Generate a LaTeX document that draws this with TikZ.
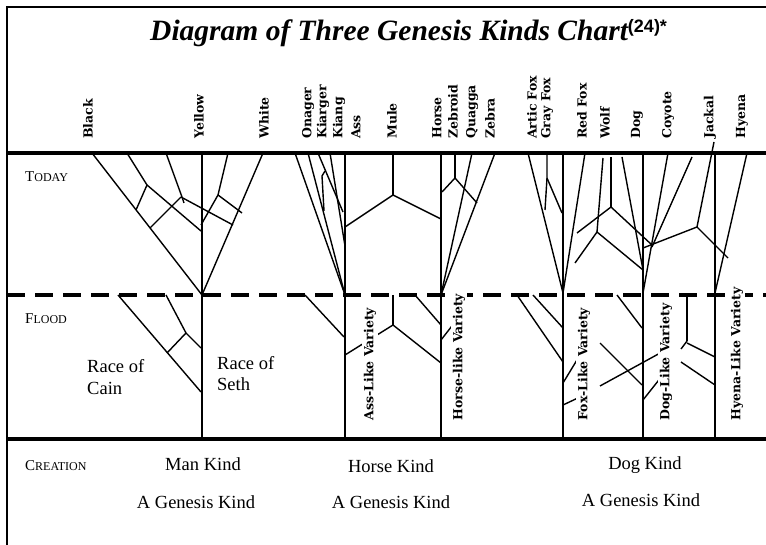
\documentclass[tikz,border=0pt]{standalone}
\usepackage{fontspec}
\setmainfont{Liberation Serif}
\newfontfamily\labfont{DejaVu Serif}
\newfontfamily\supfont{Liberation Sans}
\begin{document}
\begin{tikzpicture}[x=1pt,y=-1pt,
  br/.style={line width=1.4pt},
  band/.style={line width=4pt},
  lab/.style={rotate=90, anchor=west, inner sep=0pt, font=\labfont\bfseries\fontsize{12.5}{12.5}\selectfont},
  var/.style={rotate=90, anchor=west, fill=white, inner sep=1.5pt, font=\labfont\bfseries\fontsize{12.5}{12.5}\selectfont},
  txt/.style={anchor=base west, inner sep=0pt, font=\fontsize{18.5}{18.5}\selectfont},
  kind/.style={anchor=base, inner sep=0pt, font=\fontsize{18.5}{18.5}\selectfont}]
\useasboundingbox (0,0) rectangle (766,545);
\fill[white] (0,0) rectangle (766,545);
% frame and bands
\draw[line width=2pt] (7,545) -- (7,7) -- (766,7);
\draw[band] (7,153) -- (766,153);
\draw[band, dash pattern=on 18pt off 10pt] (7,295) -- (766,295);
\draw[band] (7,439) -- (766,439);
% apex coordinates
\coordinate (manA) at (202,295);
\coordinate (assA) at (345,295);
\coordinate (horA) at (441,295);
\coordinate (foxA) at (563,293);
\coordinate (dogA) at (643,293);
\coordinate (hyeA) at (715,293);
% ---- Man kind, today
\draw[br] (92,153) -- (manA);
\draw[br] (263,153) -- (manA);
\draw[br] (202,153) -- (202,439);
\draw[br] (127,153) -- (147,185) -- (201,231);
\draw[br] (147,185) -- (136,210);
\draw[br] (166,153) -- (182,197) -- (184,203);
\draw[br] (181,197) -- (150,228);
\draw[br] (181,197) -- (233,225);
\draw[br] (228,153) -- (218,195) -- (201,225);
\draw[br] (218,195) -- (242,213);
% Man kind, flood
\draw[br] (118,295) -- (201,392);
\draw[br] (166,295) -- (186,333) -- (201,348);
\draw[br] (186,333) -- (167,353);
% ---- Ass, today
\draw[br] (345,153) -- (345,439);
\draw[br] (295,153) -- (assA);
\draw[br] (308,153) -- (assA);
\draw[br] (318,153) -- (343,212);
\draw[br] (325,171) -- (322,176) -- (324,211);
\draw[br] (330,153) -- (345,246);
% Mule
\draw[br] (393,153) -- (393,195);
\draw[br] (345,227) -- (393,195) -- (441,219);
% ---- Horse, today
\draw[br] (441,153) -- (441,439);
\draw[br] (455,153) -- (455,178);
\draw[br] (442,192) -- (455,178) -- (477,203);
\draw[br] (472,153) -- (horA);
\draw[br] (495,153) -- (horA);
% Ass / Horse flood
\draw[br] (305,295) -- (344,337);
\draw[br] (393,295) -- (393,325);
\draw[br] (345,355) -- (393,325) -- (441,363);
\draw[br] (415,295) -- (441,325);
\draw[br] (441,340) -- (455,322);
% ---- Fox, today
\draw[br] (563,153) -- (563,439);
\draw[br] (528,153) -- (foxA);
\draw[br] (547,153) -- (547,178) -- (545,210);
\draw[br] (547,178) -- (562,213);
\draw[br] (585,153) -- (foxA);
% ---- Dog, today
\draw[br] (643,153) -- (643,439);
\draw[br] (603,158) -- (597,232);
\draw[br] (575,263) -- (597,232) -- (643,270);
\draw[br] (611,157) -- (611,207);
\draw[br] (577,233) -- (611,207) -- (652,245);
\draw[br] (622,157) -- (643,270);
\draw[br] (668,153) -- (dogA);
\draw[br] (692,157) -- (652,247);
\draw[br] (714,142) -- (697,227);
\draw[br] (643,248) -- (697,227) -- (728,258);
% ---- Hyena, today
\draw[br] (715,153) -- (715,439);
\draw[br] (747,153) -- (hyeA);
% Fox / Dog / Hyena flood
\draw[br] (517,295) -- (563,362);
\draw[br] (533,295) -- (563,328);
\draw[br] (563,383) -- (580,355);
\draw[br] (563,405) -- (580,397);
\draw[br] (600,343) -- (642,385);
\draw[br] (600,386) -- (662,352);
\draw[br] (617,295) -- (642,328);
\draw[br] (643,400) -- (662,376);
\draw[br] (687,295) -- (687,341);
\draw[br] (681,349) -- (687,341);
\draw[br] (687,343) -- (715,357);
\draw[br] (681,362) -- (715,385);
% ---- title
\node[anchor=base west, inner sep=0pt] (title) at (150,41)
  {\fontsize{29.5}{29.5}\selectfont\bfseries\itshape Diagram of Three Genesis Kinds Chart\raisebox{8.5pt}{\supfont\upshape\bfseries\fontsize{18}{18}\selectfont(24)*}};
% ---- top labels
\node[lab] (l1) at (88,139) {Black};
\node[lab] (l2) at (199,139) {Yellow};
\node[lab] (l3) at (264,139) {White};
\node[lab] (l4) at (308,139) {Onager};
\node[lab] (l5) at (323,139) {Kiarger};
\node[lab] (l6) at (339,139) {Kiang};
\node[lab] (l7) at (356,139) {Ass};
\node[lab] (l8) at (392,139) {Mule};
\node[lab] (l9) at (437,139) {Horse};
\node[lab] (l10) at (453,139) {Zebroid};
\node[lab] (l11) at (472,139) {Quagga};
\node[lab] (l12) at (490,139) {Zebra};
\node[lab] (l13) at (532,139) {Artic Fox};
\node[lab] (l14) at (547,139) {Gray Fox};
\node[lab] (l15) at (582,139) {Red Fox};
\node[lab] (l16) at (605,139) {Wolf};
\node[lab] (l17) at (637,139) {Dog};
\node[lab] (l18) at (668,139) {Coyote};
\node[lab] (l19) at (710,139) {Jackal};
\node[lab] (l20) at (742,139) {Hyena};
% ---- variety labels
\node[var] (v1) at (370,422) {Ass-Like Variety};
\node[var] (v2) at (459,422) {Horse-like Variety};
\node[var] (v3) at (584,422) {Fox-Like Variety};
\node[var] (v4) at (666,422) {Dog-Like Variety};
\node[var] (v5) at (737,422) {Hyena-Like Variety};
% ---- row labels
\node[anchor=base west, inner sep=0pt] (today) at (25,182) {\fontsize{15}{15}\selectfont T\fontsize{12}{12}\selectfont ODAY};
\node[anchor=base west, inner sep=0pt] (flood) at (25,324) {\fontsize{15}{15}\selectfont F\fontsize{12}{12}\selectfont LOOD};
\node[anchor=base west, inner sep=0pt] (creation) at (25,470) {\fontsize{15}{15}\selectfont C\fontsize{12}{12}\selectfont REATION};
% ---- race texts
\node[txt] (rc1) at (87,373) {Race of};
\node[txt] (rc2) at (87,395) {Cain};
\node[txt] (rs1) at (217,370) {Race of};
\node[txt] (rs2) at (217,391) {Seth};
% ---- kinds
\node[kind] (k1) at (203,470) {Man Kind};
\node[kind] (k2) at (391,472) {Horse Kind};
\node[kind] (k3) at (645,469) {Dog Kind};
\node[kind] (g1) at (196,508) {A Genesis Kind};
\node[kind] (g2) at (391,508) {A Genesis Kind};
\node[kind] (g3) at (641,506) {A Genesis Kind};
\end{tikzpicture}
\end{document}
